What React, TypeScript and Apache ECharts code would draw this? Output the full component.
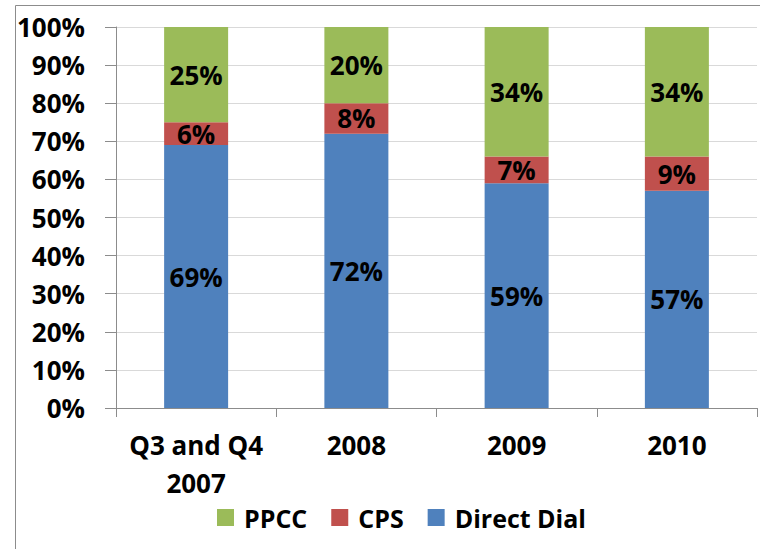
import React, { useEffect, useRef } from "react";
import * as echarts from "echarts";

const categories = ["Q3 and Q4\n2007", "2008", "2009", "2010"];
const directDial = [69, 72, 59, 57];
const cps = [6, 8, 7, 9];
const ppcc = [25, 20, 34, 34];
const seriesNames = ["PPCC", "CPS", "Direct Dial"];

const FONT = "'Open Sans', 'Liberation Sans', sans-serif";

export default function App() {
  const ref = useRef<HTMLDivElement>(null);
  useEffect(() => {
    const chart = echarts.init(ref.current!, null, { renderer: "svg" });
    const label = {
      show: true,
      position: "inside",
      formatter: "{c}%",
      color: "#000",
      fontFamily: FONT,
      fontWeight: "bold",
      fontSize: 26,
    };
    chart.setOption({
      animation: false,
      backgroundColor: "#fff",
      grid: { left: 116, right: 3, top: 27, bottom: 141, containLabel: false },
      legend: {
        data: seriesNames,
        left: 212,
        top: 500,
        itemWidth: 17,
        itemHeight: 17,
        itemGap: 24,
        icon: "rect",
        textStyle: { fontFamily: FONT, fontWeight: "bold", fontSize: 25, color: "#000", padding: [0, 0, 0, 5] },
      },
      xAxis: {
        type: "category",
        data: categories,
        axisLine: { lineStyle: { color: "#8c8c8c", width: 1 } },
        axisTick: { show: true, length: 9, alignWithLabel: false, lineStyle: { color: "#8c8c8c" } },
        axisLabel: {
          fontFamily: FONT,
          fontWeight: "bold",
          fontSize: 26,
          color: "#000",
          lineHeight: 38,
          margin: 18,
          interval: 0,
        },
      },
      yAxis: {
        type: "value",
        min: 0,
        max: 100,
        interval: 10,
        axisLine: { show: true, lineStyle: { color: "#8c8c8c", width: 1 } },
        axisTick: { show: true, length: 11, lineStyle: { color: "#8c8c8c" } },
        splitLine: { lineStyle: { color: "#d9d9d9", width: 1 } },
        axisLabel: {
          formatter: "{value}%",
          fontFamily: FONT,
          fontWeight: "bold",
          fontSize: 26,
          color: "#000",
          margin: 31,
        },
      },
      graphic: [
        { type: "line", shape: { x1: 15.5, y1: 5.5, x2: 760, y2: 5.5 }, style: { stroke: "#8c8c8c", lineWidth: 1 } },
        { type: "line", shape: { x1: 15.5, y1: 5.5, x2: 15.5, y2: 549 }, style: { stroke: "#8c8c8c", lineWidth: 1 } },
      ],
      series: [
        { name: "Direct Dial", type: "bar", stack: "t", data: directDial, barWidth: 64, itemStyle: { color: "#4f81bd" }, label },
        { name: "CPS", type: "bar", stack: "t", data: cps, barWidth: 64, itemStyle: { color: "#c0504d" }, label },
        { name: "PPCC", type: "bar", stack: "t", data: ppcc, barWidth: 64, itemStyle: { color: "#9bbb59" }, label },
      ],
    });
    return () => chart.dispose();
  }, []);
  return (
    <div
      ref={ref}
      style={{ position: "absolute", left: 0, top: 0, width: 760, height: 549 }}
    />
  );
}
